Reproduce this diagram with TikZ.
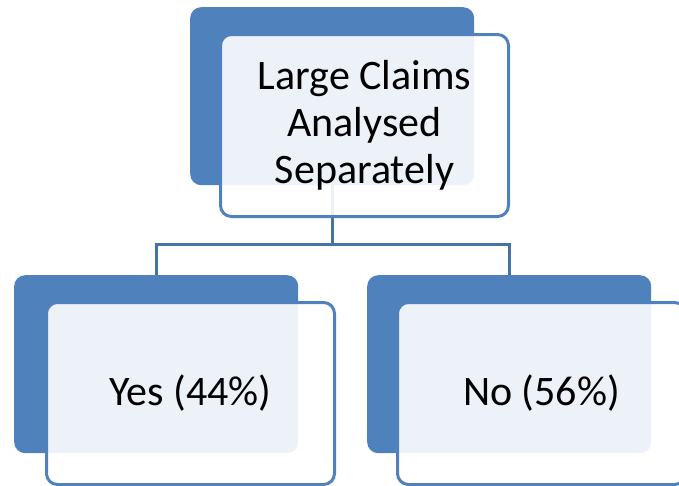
\documentclass[tikz,border=0pt]{standalone}
\usepackage{fontspec}
\setmainfont{Carlito}
\definecolor{boxblue}{HTML}{4F81BD}
\definecolor{linkblue}{HTML}{4672AA}
\begin{document}
\begin{tikzpicture}[x=1pt,y=-1pt] % координаты в пикселях
\tikzstyle{backbox} = [rectangle, rounded corners=11pt, fill=boxblue, inner sep=0pt, minimum width=284pt, minimum height=178pt, anchor=north west] % синяя подложка
\tikzstyle{frontbox} = [rectangle, rounded corners=11pt, draw=boxblue, line width=3pt, fill=white, fill opacity=0.9, text opacity=1, inner sep=0pt, minimum width=288pt, minimum height=182pt, anchor=north west, align=center, font=\fontsize{42}{47}\selectfont] % светлая рамка с текстом
\tikzstyle{link} = [draw=linkblue, line width=3pt] % соединительные линии

\useasboundingbox (0,0) rectangle (679,485);

\node[backbox] (claimsback) at (190,7) {};
\node[backbox] (yesback) at (14,275) {};
\node[backbox] (noback) at (367,275) {};

\draw[link] (claimsback.south) -- ++(0,59) -| (yesback.north);
\draw[link] (claimsback.south) -- ++(0,59) -| (noback.north);

\node[frontbox] (claims) at (219,33) {Large Claims\\Analysed\\Separately};
\node[frontbox] (yes) at (45,301) {Yes (44\%)};
\node[frontbox] (no) at (396,301) {No (56\%)};
\end{tikzpicture}
\end{document}
